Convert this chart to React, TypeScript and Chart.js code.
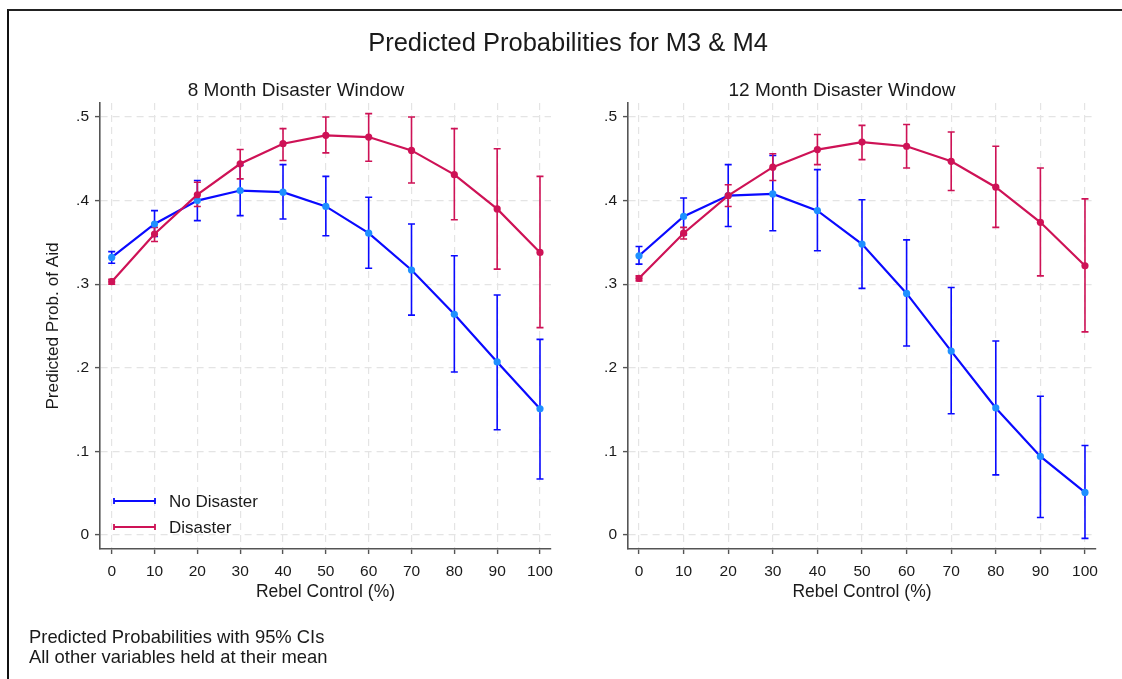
import React, { useEffect, useRef } from 'react';
import { Chart, registerables } from 'chart.js';

Chart.register(...registerables);

// ---------- data ----------
const rebelControl = [0, 10, 20, 30, 40, 50, 60, 70, 80, 90, 100];
const xTickValues = [0, 10, 20, 30, 40, 50, 60, 70, 80, 90, 100];
const yTickValues = [0, 0.1, 0.2, 0.3, 0.4, 0.5];

// M3: 8 Month Disaster Window
const m3NoDisaster = [0.332, 0.372, 0.400, 0.412, 0.410, 0.393, 0.361, 0.317, 0.264, 0.207, 0.151];
const m3NoDisasterLo = [0.325, 0.357, 0.376, 0.382, 0.378, 0.358, 0.319, 0.263, 0.195, 0.126, 0.067];
const m3NoDisasterHi = [0.339, 0.388, 0.424, 0.442, 0.443, 0.429, 0.404, 0.372, 0.334, 0.287, 0.234];
const m3Disaster = [0.303, 0.360, 0.407, 0.444, 0.468, 0.478, 0.476, 0.460, 0.431, 0.390, 0.338];
const m3DisasterLo = [0.300, 0.351, 0.393, 0.426, 0.448, 0.457, 0.447, 0.421, 0.377, 0.318, 0.248];
const m3DisasterHi = [0.306, 0.368, 0.422, 0.461, 0.486, 0.500, 0.504, 0.500, 0.486, 0.462, 0.429];

// M4: 12 Month Disaster Window
const m4NoDisaster = [0.334, 0.381, 0.406, 0.408, 0.388, 0.348, 0.289, 0.220, 0.152, 0.094, 0.051];
const m4NoDisasterLo = [0.324, 0.359, 0.369, 0.364, 0.340, 0.295, 0.226, 0.145, 0.072, 0.021, -0.004];
const m4NoDisasterHi = [0.345, 0.403, 0.443, 0.454, 0.437, 0.401, 0.353, 0.296, 0.232, 0.166, 0.107];
const m4Disaster = [0.307, 0.361, 0.406, 0.440, 0.461, 0.470, 0.465, 0.447, 0.416, 0.374, 0.322];
const m4DisasterLo = [0.304, 0.354, 0.393, 0.424, 0.443, 0.449, 0.439, 0.412, 0.368, 0.310, 0.243];
const m4DisasterHi = [0.310, 0.368, 0.419, 0.456, 0.479, 0.490, 0.491, 0.482, 0.465, 0.439, 0.402];

const seriesNames = ['No Disaster', 'Disaster'];

// ---------- styles ----------
const FONT = '"Liberation Sans", Arial, Helvetica, sans-serif';
const BLUE_LINE = '#0a0aff';
const BLUE_MARK = '#1e90ff';
const RED = '#ce1256';
const AXIS = '#555555';
const GRID = '#e4e4e4';
const TEXT = '#1a1a1a';

const errorBarPlugin = {
  id: 'errorBars',
  beforeDatasetsDraw(chart: any) {
    const { ctx, scales } = chart;
    const xs = scales.x;
    const ys = scales.y;
    const sets = [...chart.data.datasets].sort((a: any, b: any) => a.ciOrder - b.ciOrder);
    ctx.save();
    sets.forEach((ds: any) => {
      ctx.strokeStyle = ds.ciColor;
      ctx.lineWidth = 1.6;
      ctx.setLineDash([]);
      ds.ciLo.forEach((lo: number, i: number) => {
        const hi = ds.ciHi[i];
        const px = xs.getPixelForValue(rebelControl[i]);
        const pLo = ys.getPixelForValue(lo);
        const pHi = ys.getPixelForValue(hi);
        ctx.beginPath();
        ctx.moveTo(px, pLo);
        ctx.lineTo(px, pHi);
        ctx.moveTo(px - 3.5, pLo);
        ctx.lineTo(px + 3.5, pLo);
        ctx.moveTo(px - 3.5, pHi);
        ctx.lineTo(px + 3.5, pHi);
        ctx.stroke();
      });
    });
    ctx.restore();
  },
};

const legendPlugin = {
  id: 'insideLegend',
  afterDraw(chart: any) {
    const opts = chart.options.plugins.insideLegend;
    if (!opts || !opts.show) return;
    const { ctx, chartArea } = chart;
    const rows = [
      { label: seriesNames[0], color: BLUE_LINE, dy: -48 },
      { label: seriesNames[1], color: RED, dy: -22 },
    ];
    ctx.save();
    rows.forEach((r) => {
      const y = chartArea.bottom + r.dy;
      const x1 = chartArea.left + 14;
      const x2 = chartArea.left + 55;
      ctx.strokeStyle = r.color;
      ctx.lineWidth = 1.8;
      ctx.beginPath();
      ctx.moveTo(x1, y);
      ctx.lineTo(x2, y);
      ctx.moveTo(x1, y - 3);
      ctx.lineTo(x1, y + 3);
      ctx.moveTo(x2, y - 3);
      ctx.lineTo(x2, y + 3);
      ctx.stroke();
      ctx.fillStyle = TEXT;
      ctx.font = `17px ${FONT}`;
      ctx.textBaseline = 'middle';
      ctx.textAlign = 'left';
      ctx.fillText(r.label, chartArea.left + 69, y + 1);
    });
    ctx.restore();
  },
};

type PanelProps = {
  left: number;
  width: number;
  padLeft: number;
  padRight: number;
  yAxisWidth: number;
  xMin: number;
  xMax: number;
  showYTitle: boolean;
  showLegend: boolean;
  noDis: number[];
  noDisLo: number[];
  noDisHi: number[];
  dis: number[];
  disLo: number[];
  disHi: number[];
};

function Panel(p: PanelProps) {
  const ref = useRef<HTMLCanvasElement | null>(null);
  useEffect(() => {
    if (!ref.current) return;
    const chart = new Chart(ref.current, {
      type: 'line',
      data: {
        datasets: [
          {
            label: seriesNames[1],
            data: rebelControl.map((x, i) => ({ x, y: p.dis[i] })),
            borderColor: RED,
            backgroundColor: RED,
            pointBackgroundColor: RED,
            pointBorderColor: RED,
            pointRadius: 3.6,
            pointBorderWidth: 0,
            borderWidth: 2.2,
            tension: 0,
            order: 0,
            ciLo: p.disLo,
            ciHi: p.disHi,
            ciColor: RED,
            ciOrder: 1,
          } as any,
          {
            label: seriesNames[0],
            data: rebelControl.map((x, i) => ({ x, y: p.noDis[i] })),
            borderColor: BLUE_LINE,
            backgroundColor: BLUE_MARK,
            pointBackgroundColor: BLUE_MARK,
            pointBorderColor: BLUE_MARK,
            pointRadius: 3.6,
            pointBorderWidth: 0,
            borderWidth: 2.2,
            tension: 0,
            order: 1,
            ciLo: p.noDisLo,
            ciHi: p.noDisHi,
            ciColor: BLUE_LINE,
            ciOrder: 0,
          } as any,
        ],
      },
      options: {
        animation: false,
        responsive: false,
        maintainAspectRatio: false,
        layout: { padding: { left: p.padLeft, right: p.padRight, top: 103, bottom: 76 } },
        plugins: {
          legend: { display: false },
          title: { display: false },
          tooltip: { enabled: false },
          insideLegend: { show: p.showLegend },
        } as any,
        scales: {
          x: {
            type: 'linear',
            min: p.xMin,
            max: p.xMax,
            afterBuildTicks: (s: any) => {
              s.ticks = xTickValues.map((v) => ({ value: v }));
            },
            afterFit: (s: any) => {
              s.height = 54;
            },
            grid: {
              color: GRID,
              lineWidth: 1.2,
              drawTicks: true,
              tickLength: 5,
              tickColor: AXIS,
              tickWidth: 1.4,
            },
            border: { display: true, color: AXIS, width: 1.6, dash: [7, 5] },
            ticks: {
              color: TEXT,
              font: { family: FONT, size: 15.5 },
              padding: 8,
              autoSkip: false,
              maxRotation: 0,
              callback: (v: any) => String(v),
            },
            title: {
              display: true,
              text: 'Rebel Control (%)',
              color: TEXT,
              font: { family: FONT, size: 17.5 },
              padding: 0,
            },
          },
          y: {
            type: 'linear',
            min: -0.0167,
            max: 0.5167,
            afterBuildTicks: (s: any) => {
              s.ticks = yTickValues.map((v) => ({ value: v }));
            },
            afterFit: (s: any) => {
              s.width = p.yAxisWidth;
            },
            grid: {
              color: GRID,
              lineWidth: 1.2,
              drawTicks: true,
              tickLength: 5,
              tickColor: AXIS,
              tickWidth: 1.4,
            },
            border: { display: true, color: AXIS, width: 1.6, dash: [7, 5] },
            ticks: {
              color: TEXT,
              font: { family: FONT, size: 15.5 },
              padding: 6,
              autoSkip: false,
              callback: (v: any) => (v === 0 ? '0' : Number(v).toFixed(1).replace(/^0/, '')),
            },
            title: {
              display: p.showYTitle,
              text: 'Predicted Prob. of Aid',
              color: TEXT,
              font: { family: FONT, size: 17.2 },
              padding: 0,
            },
          },
        },
      } as any,
      plugins: [errorBarPlugin, legendPlugin],
    });
    return () => chart.destroy();
  }, []);
  return (
    <canvas
      ref={ref}
      width={p.width}
      height={679}
      style={{ position: 'absolute', left: p.left, top: 0, width: p.width, height: 679 }}
    />
  );
}

export default function App() {
  const textBase: React.CSSProperties = {
    position: 'absolute',
    fontFamily: FONT,
    color: TEXT,
    whiteSpace: 'nowrap',
  };
  return (
    <div
      style={{
        position: 'fixed',
        left: 0,
        top: 0,
        width: 1122,
        height: 679,
        background: '#ffffff',
        overflow: 'hidden',
      }}
    >
      <div
        style={{
          position: 'absolute',
          left: 7,
          top: 9,
          width: 1130,
          height: 700,
          borderLeft: '2px solid #111',
          borderTop: '2px solid #222',
        }}
      />
      <Panel
        left={0}
        width={570}
        padLeft={43}
        padRight={19}
        yAxisWidth={57}
        xMin={-2.73}
        xMax={102.57}
        showYTitle={true}
        showLegend={true}
        noDis={m3NoDisaster}
        noDisLo={m3NoDisasterLo}
        noDisHi={m3NoDisasterHi}
        dis={m3Disaster}
        disLo={m3DisasterLo}
        disHi={m3DisasterHi}
      />
      <Panel
        left={570}
        width={552}
        padLeft={10}
        padRight={26}
        yAxisWidth={48}
        xMin={-2.47}
        xMax={102.47}
        showYTitle={false}
        showLegend={false}
        noDis={m4NoDisaster}
        noDisLo={m4NoDisasterLo}
        noDisHi={m4NoDisasterHi}
        dis={m4Disaster}
        disLo={m4DisasterLo}
        disHi={m4DisasterHi}
      />
      <div style={{ ...textBase, left: 268, width: 600, top: 30, textAlign: 'center', fontSize: 25.5, lineHeight: '25.5px' }}>
        Predicted Probabilities for M3 &amp; M4
      </div>
      <div style={{ ...textBase, left: 96, width: 400, top: 80, textAlign: 'center', fontSize: 19, lineHeight: '19px' }}>
        8 Month Disaster Window
      </div>
      <div style={{ ...textBase, left: 642, width: 400, top: 80, textAlign: 'center', fontSize: 19, lineHeight: '19px' }}>
        12 Month Disaster Window
      </div>
      <div style={{ ...textBase, left: 29, top: 627, fontSize: 18.4, lineHeight: '19.5px' }}>
        Predicted Probabilities with 95% CIs
        <br />
        All other variables held at their mean
      </div>
    </div>
  );
}
